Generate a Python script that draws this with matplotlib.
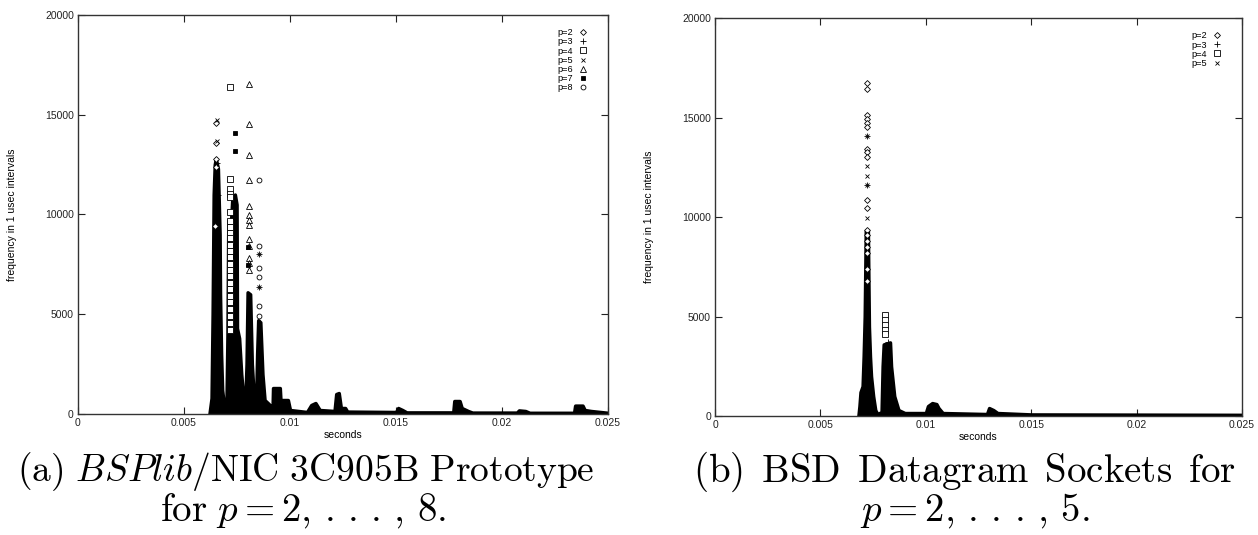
import matplotlib
matplotlib.use("Agg")
import matplotlib.pyplot as plt

plt.rcParams['font.family'] = ['Liberation Sans', 'DejaVu Sans']
plt.rcParams['mathtext.fontset'] = 'cm'

# ---------------- data: panel (a) ----------------
a_env_x = [0.0062, 0.0063, 0.00635, 0.0064, 0.00645, 0.0065, 0.0066, 0.00668, 0.0067,
           0.00675, 0.0068, 0.0069,
           0.0070, 0.00705, 0.00709, 0.00722, 0.00728, 0.0074, 0.00748, 0.0075, 0.0076,
           0.0077, 0.0078, 0.0079, 0.00795, 0.0080, 0.00812, 0.0082, 0.0083, 0.0084,
           0.00845, 0.0085, 0.0086, 0.0087, 0.0088, 0.0090, 0.0091, 0.00918, 0.0092, 0.00952,
           0.00955, 0.0099, 0.0100, 0.0108, 0.0110, 0.0112, 0.0114, 0.0121, 0.01218, 0.0123,
           0.0124, 0.0126, 0.0127, 0.0150, 0.0151, 0.0153, 0.0155, 0.0177, 0.01775, 0.0180,
           0.0181, 0.0184, 0.0186, 0.0207, 0.0208, 0.0211, 0.0213, 0.0234, 0.02345, 0.0238,
           0.0239, 0.0242, 0.0250]
a_env_y = [0, 800, 5000, 11000, 12500, 12800, 12300, 9000, 6000,
           3000, 1200, 300,
           300, 4000, 9700, 9700, 10800, 11000, 10500, 4300, 3800,
           2000, 800, 900, 2500, 6100, 6000, 2500, 700, 600,
           3000, 4700, 4600, 2000, 700, 500, 350, 400, 1300, 1300,
           700, 700, 200, 100, 450, 550, 200, 150, 1000, 1050,
           300, 300, 120, 100, 300, 200, 80, 80, 650, 650,
           300, 150, 70, 70, 180, 150, 60, 60, 420, 420,
           200, 150, 60]

a_labels = ['p=2', 'p=3', 'p=4', 'p=5', 'p=6', 'p=7', 'p=8']
a_p2_x = [0.00652, 0.00652, 0.00652, 0.0065, 0.00648]
a_p2_y = [14600, 13600, 12800, 12400, 9400]
a_p3_x = [0.00655, 0.0066, 0.00855, 0.00855]
a_p3_y = [12600, 11000, 8000, 6380]
a_p4_x = [0.00716] * 24
a_p4_y = [16390, 11800, 11290, 11040, 10900, 10130, 9650, 9380, 9080, 8800, 8450, 8150,
          7850, 7500, 7200, 6900, 6550, 6250, 5900, 5600, 5250, 4900, 4550, 4200]
a_p5_x = [0.00654, 0.00654, 0.00855, 0.00855]
a_p5_y = [14730, 13670, 8000, 6380]
a_p6_x = [0.00805] * 13
a_p6_y = [16530, 14550, 12990, 11730, 10450, 9980, 9730, 9480, 8760, 8420, 7800, 7550, 7210]
a_p7_x = [0.00742, 0.00742, 0.00742, 0.00742, 0.00742, 0.00742, 0.00742, 0.00803, 0.00803]
a_p7_y = [14060, 13200, 9870, 8400, 7900, 6200, 5500, 8350, 7450]
a_p8_x = [0.00855, 0.00855, 0.00855, 0.00855, 0.00855, 0.00855]
a_p8_y = [11710, 8420, 7300, 6880, 5420, 4900]

# ---------------- data: panel (b) ----------------
b_env_x = [0.0068, 0.00685, 0.0069, 0.0070, 0.00705, 0.0071, 0.00715, 0.00725, 0.0073,
           0.00735, 0.0074, 0.0075, 0.0076, 0.0077, 0.0079, 0.00795, 0.0080, 0.0083, 0.00835,
           0.0085, 0.0087, 0.0090, 0.0100, 0.0101, 0.0103, 0.0105, 0.0106, 0.0108, 0.0129,
           0.0130, 0.0132, 0.0134, 0.0150, 0.0250]
b_env_y = [0, 500, 1200, 1500, 3000, 5000, 9300, 9300, 4500,
           3000, 2000, 1000, 300, 100, 200, 2500, 3600, 3700, 2500,
           1000, 300, 150, 150, 500, 650, 600, 400, 150, 100,
           400, 300, 150, 80, 60]

b_labels = ['p=2', 'p=3', 'p=4', 'p=5']
b_p2_x = [0.00722] * 18
b_p2_y = [16740, 16450, 15150, 14930, 14750, 14530, 13440, 13270, 13020, 10880, 10430,
          9340, 9100, 8800, 8500, 8200, 7400, 6800]
b_p3_x = [0.0072, 0.0072, 0.0082]
b_p3_y = [14060, 11630, 3700]
b_p4_x = [0.00806] * 5
b_p4_y = [5070, 4820, 4570, 4300, 4100]
b_p5_x = [0.0072, 0.0072, 0.0072, 0.0072, 0.0072]
b_p5_y = [14060, 12570, 12070, 11630, 9960]

x_ticks = [0, 0.005, 0.01, 0.015, 0.02, 0.025]
x_tick_labels = ['0', '0.005', '0.01', '0.015', '0.02', '0.025']
y_ticks = [0, 5000, 10000, 15000, 20000]

styles = {
    'p=2': dict(marker='D', mfc='white', mec='black', ms=3),
    'p=3': dict(marker='+', mfc='none', mec='black', ms=4),
    'p=4': dict(marker='s', mfc='white', mec='black', ms=4),
    'p=5': dict(marker='x', mfc='none', mec='black', ms=3.5),
    'p=6': dict(marker='^', mfc='white', mec='black', ms=4),
    'p=7': dict(marker='s', mfc='black', mec='black', ms=3.5),
    'p=8': dict(marker='o', mfc='white', mec='black', ms=3.5),
}

fig = plt.figure(figsize=(12.58, 5.35), dpi=100)
ax_a = fig.add_axes([0.062, 0.2262, 0.4213, 0.7458])
ax_b = fig.add_axes([0.5684, 0.2224, 0.4189, 0.7439])


def setup(ax):
    ax.set_xlim(0, 0.025)
    ax.set_ylim(0, 20000)
    ax.set_xticks(x_ticks)
    ax.set_xticklabels(x_tick_labels)
    ax.set_yticks(y_ticks)
    ax.tick_params(direction='in', top=True, right=True, length=5, width=0.8,
                   labelsize=7.5, pad=3, colors='#222222')
    for s in ax.spines.values():
        s.set_linewidth(1.0)
        s.set_color('#333333')
    ax.set_xlabel('seconds', fontsize=7.5, labelpad=1)
    ax.set_ylabel('frequency in 1 usec intervals', fontsize=7.5, labelpad=20)


for ax, env_x, env_y, series, labels in [
    (ax_a, a_env_x, a_env_y,
     [(a_p2_x, a_p2_y), (a_p3_x, a_p3_y), (a_p4_x, a_p4_y), (a_p5_x, a_p5_y),
      (a_p6_x, a_p6_y), (a_p7_x, a_p7_y), (a_p8_x, a_p8_y)], a_labels),
    (ax_b, b_env_x, b_env_y,
     [(b_p2_x, b_p2_y), (b_p3_x, b_p3_y), (b_p4_x, b_p4_y), (b_p5_x, b_p5_y)], b_labels),
]:
    setup(ax)
    ax.fill_between(env_x, env_y, 0, facecolor='black', lw=2.5, edgecolor='black', zorder=2)
    for (sx, sy), lab in zip(series, labels):
        ax.plot(sx, sy, ls='none', mew=0.6, label=lab, zorder=3, **styles[lab])
    ax.legend(loc='upper right', markerfirst=False, frameon=False, fontsize=6.6,
              handlelength=1.0, handletextpad=0.6, labelspacing=0.02,
              borderaxespad=0.4, bbox_to_anchor=(0.975, 0.985))

dots = r'\,.\,.\,.\,'
fig.text(0.243, 0.118, r'$\mathrm{(a)}\ \mathit{BSPlib}\mathrm{/NIC\ 3C905B\ Prototype}$',
         ha='center', va='center', fontsize=27)
fig.text(0.241, 0.046, r'$\mathrm{for}\ p=2,' + dots + r',\,8.$', ha='center', va='center',
         fontsize=28)
fig.text(0.767, 0.118, r'$\mathrm{(b)\ \,BSD\ \,Datagram\ \,Sockets\ \,for}$',
         ha='center', va='center', fontsize=28)
fig.text(0.775, 0.046, r'$p=2,' + dots + r',\,5.$', ha='center', va='center', fontsize=28)

fig.savefig('out.png', dpi=100)
